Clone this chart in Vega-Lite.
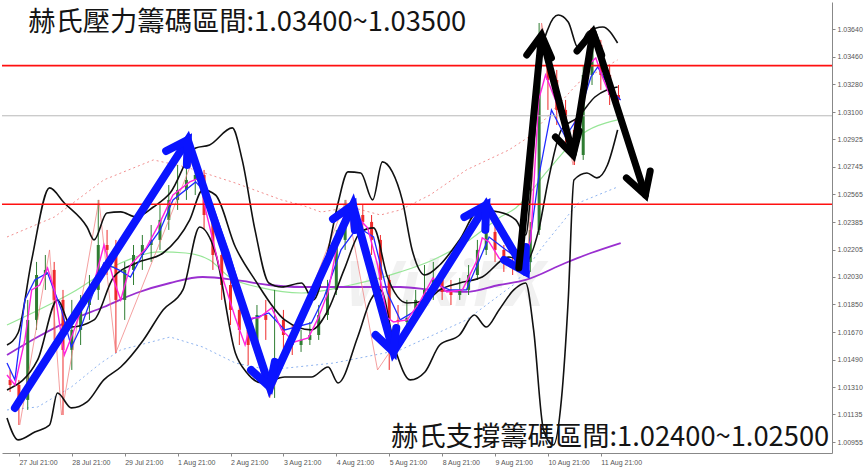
{
  "$schema": "https://vega.github.io/schema/vega-lite/v6.json",
  "width": 830,
  "height": 451,
  "autosize": "none",
  "padding": {"left": 2, "top": 2, "right": 35, "bottom": 14},
  "background": "white",
  "config": {
    "view": {"stroke": null},
    "axis": {"grid": false, "title": null, "domainColor": "#888", "tickColor": "#888", "tickSize": 3, "labelFont": "Liberation Sans", "labelFontSize": 7, "labelColor": "#555"}
  },
  "datasets": {
    "candles": [
      {"t": -4, "o": 1.01359, "h": 1.01424, "l": 1.01281, "c": 1.01326},
      {"t": 0, "o": 1.01326, "h": 1.01359, "l": 1.01066, "c": 1.01229},
      {"t": 4, "o": 1.01229, "h": 1.01879, "l": 1.01164, "c": 1.01749},
      {"t": 8, "o": 1.01749, "h": 1.02126, "l": 1.01684, "c": 1.02041},
      {"t": 12, "o": 1.02041, "h": 1.02171, "l": 1.01944, "c": 1.02074},
      {"t": 16, "o": 1.02074, "h": 1.02126, "l": 1.01619, "c": 1.01879},
      {"t": 20, "o": 1.01879, "h": 1.01944, "l": 1.01131, "c": 1.01554},
      {"t": 24, "o": 1.01554, "h": 1.01879, "l": 1.01424, "c": 1.01684},
      {"t": 28, "o": 1.01684, "h": 1.01911, "l": 1.01586, "c": 1.01846},
      {"t": 32, "o": 1.01846, "h": 1.02041, "l": 1.01749, "c": 1.01944},
      {"t": 36, "o": 1.01944, "h": 1.02529, "l": 1.01879, "c": 1.02236},
      {"t": 40, "o": 1.02236, "h": 1.02334, "l": 1.02041, "c": 1.02204},
      {"t": 44, "o": 1.02204, "h": 1.02269, "l": 1.01534, "c": 1.01879},
      {"t": 48, "o": 1.01879, "h": 1.02126, "l": 1.01749, "c": 1.02074},
      {"t": 52, "o": 1.02074, "h": 1.02236, "l": 1.01976, "c": 1.02171},
      {"t": 56, "o": 1.02171, "h": 1.02301, "l": 1.02074, "c": 1.02236},
      {"t": 60, "o": 1.02236, "h": 1.02366, "l": 1.02126, "c": 1.02269},
      {"t": 64, "o": 1.02269, "h": 1.02496, "l": 1.02204, "c": 1.02399},
      {"t": 68, "o": 1.02399, "h": 1.02626, "l": 1.02334, "c": 1.02529},
      {"t": 72, "o": 1.02529, "h": 1.02756, "l": 1.02464, "c": 1.02594},
      {"t": 76, "o": 1.02594, "h": 1.02789, "l": 1.02529, "c": 1.02659},
      {"t": 80, "o": 1.02659, "h": 1.02769, "l": 1.02561, "c": 1.02691},
      {"t": 84, "o": 1.02691, "h": 1.02724, "l": 1.02334, "c": 1.02431},
      {"t": 88, "o": 1.02431, "h": 1.02464, "l": 1.02074, "c": 1.02171},
      {"t": 92, "o": 1.02171, "h": 1.02236, "l": 1.01879, "c": 1.01976},
      {"t": 96, "o": 1.01976, "h": 1.02009, "l": 1.01716, "c": 1.01814},
      {"t": 100, "o": 1.01814, "h": 1.01879, "l": 1.01586, "c": 1.01684},
      {"t": 104, "o": 1.01684, "h": 1.01749, "l": 1.01456, "c": 1.01586},
      {"t": 108, "o": 1.01586, "h": 1.01846, "l": 1.01521, "c": 1.01781},
      {"t": 112, "o": 1.01781, "h": 1.01879, "l": 1.01619, "c": 1.01749},
      {"t": 116, "o": 1.01749, "h": 1.01944, "l": 1.01242, "c": 1.01749},
      {"t": 120, "o": 1.01749, "h": 1.01814, "l": 1.01554, "c": 1.01651},
      {"t": 124, "o": 1.01651, "h": 1.01716, "l": 1.01521, "c": 1.01586},
      {"t": 128, "o": 1.01586, "h": 1.01684, "l": 1.01541, "c": 1.01619},
      {"t": 132, "o": 1.01619, "h": 1.01736, "l": 1.01586, "c": 1.01651},
      {"t": 136, "o": 1.01651, "h": 1.01846, "l": 1.01619, "c": 1.01781},
      {"t": 140, "o": 1.01781, "h": 1.02009, "l": 1.01749, "c": 1.01944},
      {"t": 144, "o": 1.01944, "h": 1.02334, "l": 1.01911, "c": 1.02269},
      {"t": 148, "o": 1.02269, "h": 1.02529, "l": 1.02204, "c": 1.02451},
      {"t": 152, "o": 1.02451, "h": 1.02529, "l": 1.02366, "c": 1.02431},
      {"t": 156, "o": 1.02431, "h": 1.02496, "l": 1.02269, "c": 1.02386},
      {"t": 160, "o": 1.02386, "h": 1.02431, "l": 1.02171, "c": 1.02269},
      {"t": 164, "o": 1.02269, "h": 1.02301, "l": 1.01879, "c": 1.02009},
      {"t": 168, "o": 1.02009, "h": 1.02041, "l": 1.01424, "c": 1.01749},
      {"t": 172, "o": 1.01749, "h": 1.01846, "l": 1.01651, "c": 1.01736},
      {"t": 176, "o": 1.01736, "h": 1.01879, "l": 1.01684, "c": 1.01762},
      {"t": 180, "o": 1.01762, "h": 1.01944, "l": 1.01736, "c": 1.01879},
      {"t": 184, "o": 1.01879, "h": 1.02106, "l": 1.01846, "c": 1.01944},
      {"t": 188, "o": 1.01944, "h": 1.02126, "l": 1.01879, "c": 1.02009},
      {"t": 192, "o": 1.02009, "h": 1.02074, "l": 1.01879, "c": 1.01931},
      {"t": 196, "o": 1.01931, "h": 1.02009, "l": 1.01846, "c": 1.01911},
      {"t": 200, "o": 1.01911, "h": 1.02022, "l": 1.01879, "c": 1.01944},
      {"t": 204, "o": 1.01944, "h": 1.02106, "l": 1.01911, "c": 1.02041},
      {"t": 208, "o": 1.02041, "h": 1.02269, "l": 1.02009, "c": 1.02204},
      {"t": 212, "o": 1.02204, "h": 1.02464, "l": 1.02171, "c": 1.02321},
      {"t": 216, "o": 1.02321, "h": 1.02366, "l": 1.02126, "c": 1.02204},
      {"t": 220, "o": 1.02204, "h": 1.02236, "l": 1.02061, "c": 1.02126},
      {"t": 224, "o": 1.02126, "h": 1.02191, "l": 1.02041, "c": 1.02106},
      {"t": 228, "o": 1.02106, "h": 1.02171, "l": 1.02061, "c": 1.02126},
      {"t": 232, "o": 1.02126, "h": 1.02386, "l": 1.02061, "c": 1.02334},
      {"t": 236, "o": 1.02334, "h": 1.03679, "l": 1.02301, "c": 1.03439},
      {"t": 240, "o": 1.03439, "h": 1.03536, "l": 1.03114, "c": 1.03309},
      {"t": 244, "o": 1.03309, "h": 1.03374, "l": 1.03016, "c": 1.03114},
      {"t": 248, "o": 1.03114, "h": 1.03179, "l": 1.02886, "c": 1.02984},
      {"t": 252, "o": 1.02984, "h": 1.03049, "l": 1.02756, "c": 1.02821},
      {"t": 256, "o": 1.02821, "h": 1.03406, "l": 1.02789, "c": 1.03341},
      {"t": 260, "o": 1.03341, "h": 1.03647, "l": 1.03276, "c": 1.03536},
      {"t": 264, "o": 1.03536, "h": 1.03569, "l": 1.03244, "c": 1.03341},
      {"t": 268, "o": 1.03341, "h": 1.03406, "l": 1.03146, "c": 1.03211},
      {"t": 272, "o": 1.03211, "h": 1.03276, "l": 1.03101, "c": 1.03179}
    ],
    "lines": [
      {"s": "ma5", "t": -5.4, "v": 1.01391}, {"s": "ma5", "t": -1.8, "v": 1.01326}, {"s": "ma5", "t": 2.7, "v": 1.01619},
      {"s": "ma5", "t": 5.8, "v": 1.01944}, {"s": "ma5", "t": 9.4, "v": 1.01976}, {"s": "ma5", "t": 13.0, "v": 1.02087},
      {"s": "ma5", "t": 16.1, "v": 1.01944}, {"s": "ma5", "t": 20.6, "v": 1.01521}, {"s": "ma5", "t": 24.2, "v": 1.01651},
      {"s": "ma5", "t": 28.2, "v": 1.01814}, {"s": "ma5", "t": 33.2, "v": 1.01944}, {"s": "ma5", "t": 38.6, "v": 1.02236},
      {"s": "ma5", "t": 43.0, "v": 1.02009}, {"s": "ma5", "t": 46.2, "v": 1.01879}, {"s": "ma5", "t": 50.6, "v": 1.02106},
      {"s": "ma5", "t": 57.8, "v": 1.02217}, {"s": "ma5", "t": 64.1, "v": 1.02386}, {"s": "ma5", "t": 69.9, "v": 1.02561},
      {"s": "ma5", "t": 77.5, "v": 1.02646}, {"s": "ma5", "t": 82.0, "v": 1.02672}, {"s": "ma5", "t": 84.7, "v": 1.02464},
      {"s": "ma5", "t": 91.0, "v": 1.02087}, {"s": "ma5", "t": 98.2, "v": 1.01762}, {"s": "ma5", "t": 102.6, "v": 1.01586},
      {"s": "ma5", "t": 105.8, "v": 1.01762}, {"s": "ma5", "t": 108.9, "v": 1.01762}, {"s": "ma5", "t": 114.7, "v": 1.01827},
      {"s": "ma5", "t": 119.2, "v": 1.01684}, {"s": "ma5", "t": 125.0, "v": 1.01606}, {"s": "ma5", "t": 131.3, "v": 1.01632},
      {"s": "ma5", "t": 135.8, "v": 1.01762}, {"s": "ma5", "t": 140.3, "v": 1.01931}, {"s": "ma5", "t": 144.8, "v": 1.02269},
      {"s": "ma5", "t": 147.5, "v": 1.02431}, {"s": "ma5", "t": 151.9, "v": 1.02444}, {"s": "ma5", "t": 158.2, "v": 1.02347},
      {"s": "ma5", "t": 162.7, "v": 1.02106}, {"s": "ma5", "t": 167.2, "v": 1.01762}, {"s": "ma5", "t": 169.9, "v": 1.01736},
      {"s": "ma5", "t": 176.1, "v": 1.01749}, {"s": "ma5", "t": 181.9, "v": 1.01866}, {"s": "ma5", "t": 187.8, "v": 1.02022},
      {"s": "ma5", "t": 194.1, "v": 1.01931}, {"s": "ma5", "t": 201.2, "v": 1.01944}, {"s": "ma5", "t": 207.5, "v": 1.02126},
      {"s": "ma5", "t": 210.2, "v": 1.02282}, {"s": "ma5", "t": 213.3, "v": 1.02256}, {"s": "ma5", "t": 217.8, "v": 1.02152},
      {"s": "ma5", "t": 222.3, "v": 1.021}, {"s": "ma5", "t": 225.4, "v": 1.02119}, {"s": "ma5", "t": 229.0, "v": 1.02126},
      {"s": "ma5", "t": 232.2, "v": 1.02269}, {"s": "ma5", "t": 235.8, "v": 1.03179}, {"s": "ma5", "t": 238.9, "v": 1.03341},
      {"s": "ma5", "t": 242.5, "v": 1.03211}, {"s": "ma5", "t": 247.0, "v": 1.03049}, {"s": "ma5", "t": 251.4, "v": 1.02886},
      {"s": "ma5", "t": 254.6, "v": 1.03146}, {"s": "ma5", "t": 258.2, "v": 1.03406}, {"s": "ma5", "t": 261.7, "v": 1.03452},
      {"s": "ma5", "t": 264.9, "v": 1.03322}, {"s": "ma5", "t": 268.0, "v": 1.03211}, {"s": "ma5", "t": 271.6, "v": 1.03179},

      {"s": "ma10", "t": -5.4, "v": 1.01469}, {"s": "ma10", "t": -1.8, "v": 1.01359}, {"s": "ma10", "t": 2.7, "v": 1.01879},
      {"s": "ma10", "t": 7.2, "v": 1.02009}, {"s": "ma10", "t": 13.0, "v": 1.02054}, {"s": "ma10", "t": 19.3, "v": 1.01814},
      {"s": "ma10", "t": 23.8, "v": 1.01573}, {"s": "ma10", "t": 28.2, "v": 1.01703}, {"s": "ma10", "t": 38.5, "v": 1.02119},
      {"s": "ma10", "t": 45.3, "v": 1.02074}, {"s": "ma10", "t": 50.6, "v": 1.02028}, {"s": "ma10", "t": 56.5, "v": 1.02184},
      {"s": "ma10", "t": 64.1, "v": 1.02334}, {"s": "ma10", "t": 69.9, "v": 1.02529}, {"s": "ma10", "t": 80.2, "v": 1.02646},
      {"s": "ma10", "t": 86.5, "v": 1.02548}, {"s": "ma10", "t": 95.5, "v": 1.02184}, {"s": "ma10", "t": 104.4, "v": 1.01749},
      {"s": "ma10", "t": 113.4, "v": 1.01794}, {"s": "ma10", "t": 120.6, "v": 1.01684}, {"s": "ma10", "t": 132.7, "v": 1.01729},
      {"s": "ma10", "t": 138.5, "v": 1.01898}, {"s": "ma10", "t": 146.1, "v": 1.02204}, {"s": "ma10", "t": 153.7, "v": 1.02353},
      {"s": "ma10", "t": 160.9, "v": 1.02288}, {"s": "ma10", "t": 167.2, "v": 1.01924}, {"s": "ma10", "t": 173.0, "v": 1.01749},
      {"s": "ma10", "t": 180.6, "v": 1.01814}, {"s": "ma10", "t": 187.8, "v": 1.01989}, {"s": "ma10", "t": 195.4, "v": 1.01944},
      {"s": "ma10", "t": 203.0, "v": 1.01944}, {"s": "ma10", "t": 208.9, "v": 1.02139}, {"s": "ma10", "t": 213.3, "v": 1.02288},
      {"s": "ma10", "t": 221.0, "v": 1.02204}, {"s": "ma10", "t": 225.4, "v": 1.02158}, {"s": "ma10", "t": 231.3, "v": 1.02204},
      {"s": "ma10", "t": 235.8, "v": 1.02678}, {"s": "ma10", "t": 241.6, "v": 1.03114}, {"s": "ma10", "t": 247.9, "v": 1.02938},
      {"s": "ma10", "t": 253.7, "v": 1.03068}, {"s": "ma10", "t": 259.5, "v": 1.03328}, {"s": "ma10", "t": 262.6, "v": 1.03393},
      {"s": "ma10", "t": 268.5, "v": 1.03244}, {"s": "ma10", "t": 273.0, "v": 1.03179},

      {"s": "ma50", "t": -5.4, "v": 1.01716}, {"s": "ma50", "t": 23.8, "v": 1.01924}, {"s": "ma50", "t": 46.2, "v": 1.02119},
      {"s": "ma50", "t": 64.1, "v": 1.02191}, {"s": "ma50", "t": 75.7, "v": 1.02184}, {"s": "ma50", "t": 86.5, "v": 1.02139},
      {"s": "ma50", "t": 95.5, "v": 1.02028}, {"s": "ma50", "t": 110.3, "v": 1.01957}, {"s": "ma50", "t": 128.2, "v": 1.01924},
      {"s": "ma50", "t": 150.6, "v": 1.01976}, {"s": "ma50", "t": 173.0, "v": 1.02061}, {"s": "ma50", "t": 187.8, "v": 1.02139},
      {"s": "ma50", "t": 204.4, "v": 1.02269}, {"s": "ma50", "t": 217.8, "v": 1.02412}, {"s": "ma50", "t": 225.4, "v": 1.02477},
      {"s": "ma50", "t": 240.2, "v": 1.02724}, {"s": "ma50", "t": 253.7, "v": 1.02938}, {"s": "ma50", "t": 271.6, "v": 1.03049},

      {"s": "ma200", "t": -5.4, "v": 1.01521}, {"s": "ma200", "t": 8.5, "v": 1.01638}, {"s": "ma200", "t": 23.8, "v": 1.01749},
      {"s": "ma200", "t": 38.5, "v": 1.01833}, {"s": "ma200", "t": 53.3, "v": 1.01924}, {"s": "ma200", "t": 68.6, "v": 1.01989},
      {"s": "ma200", "t": 83.4, "v": 1.02028}, {"s": "ma200", "t": 98.2, "v": 1.02009}, {"s": "ma200", "t": 113.4, "v": 1.01976},
      {"s": "ma200", "t": 128.2, "v": 1.01963}, {"s": "ma200", "t": 143.0, "v": 1.01963}, {"s": "ma200", "t": 173.0, "v": 1.01963},
      {"s": "ma200", "t": 187.8, "v": 1.01944}, {"s": "ma200", "t": 203.0, "v": 1.01931}, {"s": "ma200", "t": 217.8, "v": 1.01976},
      {"s": "ma200", "t": 229.9, "v": 1.02009}, {"s": "ma200", "t": 247.9, "v": 1.02119}, {"s": "ma200", "t": 259.5, "v": 1.02184},
      {"s": "ma200", "t": 273.0, "v": 1.02249},

      {"s": "envU", "t": -5.4, "v": 1.02288}, {"s": "envU", "t": 16.1, "v": 1.02418}, {"s": "envU", "t": 38.5, "v": 1.02659},
      {"s": "envU", "t": 61.0, "v": 1.02789}, {"s": "envU", "t": 75.7, "v": 1.02743}, {"s": "envU", "t": 98.2, "v": 1.02639},
      {"s": "envU", "t": 119.2, "v": 1.02529}, {"s": "envU", "t": 128.2, "v": 1.02496}, {"s": "envU", "t": 137.1, "v": 1.0245},
      {"s": "envU", "t": 150.6, "v": 1.02483}, {"s": "envU", "t": 164.0, "v": 1.02431}, {"s": "envU", "t": 173.0, "v": 1.02464},
      {"s": "envU", "t": 186.5, "v": 1.02561}, {"s": "envU", "t": 203.0, "v": 1.02724}, {"s": "envU", "t": 222.3, "v": 1.02854},
      {"s": "envU", "t": 231.3, "v": 1.02938}, {"s": "envU", "t": 253.7, "v": 1.03289}, {"s": "envU", "t": 271.6, "v": 1.03439},

      {"s": "envL", "t": -5.4, "v": 1.01164}, {"s": "envL", "t": 8.5, "v": 1.01183}, {"s": "envL", "t": 23.8, "v": 1.01313},
      {"s": "envL", "t": 37.2, "v": 1.01469}, {"s": "envL", "t": 46.2, "v": 1.01554}, {"s": "envL", "t": 68.6, "v": 1.01638},
      {"s": "envL", "t": 83.4, "v": 1.01573}, {"s": "envL", "t": 98.2, "v": 1.01469}, {"s": "envL", "t": 113.4, "v": 1.01424},
      {"s": "envL", "t": 143.0, "v": 1.01469}, {"s": "envL", "t": 173.0, "v": 1.01554}, {"s": "envL", "t": 203.0, "v": 1.01749},
      {"s": "envL", "t": 225.4, "v": 1.01989}, {"s": "envL", "t": 238.9, "v": 1.02249}, {"s": "envL", "t": 253.7, "v": 1.02509},
      {"s": "envL", "t": 271.6, "v": 1.02613},

      {"s": "zz", "t": 0.4, "v": 1.01066}, {"s": "zz", "t": 13.9, "v": 1.02204}, {"s": "zz", "t": 19.3, "v": 1.01131},
      {"s": "zz", "t": 36.3, "v": 1.02529}, {"s": "zz", "t": 43.9, "v": 1.01534}, {"s": "zz", "t": 78.9, "v": 1.02789},
      {"s": "zz", "t": 113.8, "v": 1.01242}, {"s": "zz", "t": 148.4, "v": 1.02529}, {"s": "zz", "t": 162.7, "v": 1.01424},
      {"s": "zz", "t": 212.0, "v": 1.02464}, {"s": "zz", "t": 230.4, "v": 1.02061}, {"s": "zz", "t": 237.1, "v": 1.03679},
      {"s": "zz", "t": 251.4, "v": 1.02756}, {"s": "zz", "t": 259.5, "v": 1.03647}, {"s": "zz", "t": 271.6, "v": 1.03114},

      {"s": "bbU", "t": -5.4, "v": 1.01586}, {"s": "bbU", "t": -0.4, "v": 1.01664}, {"s": "bbU", "t": 5.8, "v": 1.02139},
      {"s": "bbU", "t": 13.9, "v": 1.02607}, {"s": "bbU", "t": 20.6, "v": 1.02509}, {"s": "bbU", "t": 30.9, "v": 1.02353},
      {"s": "bbU", "t": 34.1, "v": 1.02269}, {"s": "bbU", "t": 39.9, "v": 1.02444}, {"s": "bbU", "t": 46.2, "v": 1.02451},
      {"s": "bbU", "t": 53.3, "v": 1.02418}, {"s": "bbU", "t": 61.0, "v": 1.02483}, {"s": "bbU", "t": 68.6, "v": 1.02574},
      {"s": "bbU", "t": 80.2, "v": 1.02867}, {"s": "bbU", "t": 86.5, "v": 1.02886}, {"s": "bbU", "t": 96.8, "v": 1.02997},
      {"s": "bbU", "t": 101.3, "v": 1.02789}, {"s": "bbU", "t": 107.1, "v": 1.02334}, {"s": "bbU", "t": 113.4, "v": 1.01989},
      {"s": "bbU", "t": 119.2, "v": 1.01963}, {"s": "bbU", "t": 128.2, "v": 1.01989}, {"s": "bbU", "t": 133.6, "v": 1.01879},
      {"s": "bbU", "t": 140.3, "v": 1.02204}, {"s": "bbU", "t": 144.8, "v": 1.02509}, {"s": "bbU", "t": 149.3, "v": 1.02711},
      {"s": "bbU", "t": 155.1, "v": 1.02704}, {"s": "bbU", "t": 160.5, "v": 1.02529}, {"s": "bbU", "t": 164.9, "v": 1.02776},
      {"s": "bbU", "t": 169.4, "v": 1.02711}, {"s": "bbU", "t": 173.9, "v": 1.02529}, {"s": "bbU", "t": 178.4, "v": 1.02204},
      {"s": "bbU", "t": 184.2, "v": 1.02041}, {"s": "bbU", "t": 190.9, "v": 1.02106}, {"s": "bbU", "t": 199.9, "v": 1.02269},
      {"s": "bbU", "t": 208.9, "v": 1.02464}, {"s": "bbU", "t": 217.8, "v": 1.02451}, {"s": "bbU", "t": 225.4, "v": 1.02399},
      {"s": "bbU", "t": 229.9, "v": 1.02301}, {"s": "bbU", "t": 233.5, "v": 1.02854}, {"s": "bbU", "t": 236.6, "v": 1.03439},
      {"s": "bbU", "t": 240.2, "v": 1.03647}, {"s": "bbU", "t": 244.7, "v": 1.03731}, {"s": "bbU", "t": 249.2, "v": 1.03686},
      {"s": "bbU", "t": 253.7, "v": 1.03517}, {"s": "bbU", "t": 258.2, "v": 1.03621}, {"s": "bbU", "t": 264.9, "v": 1.03653},
      {"s": "bbU", "t": 271.6, "v": 1.03549},

      {"s": "bbM", "t": -5.4, "v": 1.01294}, {"s": "bbM", "t": 8.5, "v": 1.01489}, {"s": "bbM", "t": 17.5, "v": 1.01879},
      {"s": "bbM", "t": 23.8, "v": 1.01703}, {"s": "bbM", "t": 34.1, "v": 1.01749}, {"s": "bbM", "t": 43.0, "v": 1.02028},
      {"s": "bbM", "t": 53.3, "v": 1.02119}, {"s": "bbM", "t": 65.4, "v": 1.02184}, {"s": "bbM", "t": 77.5, "v": 1.02399},
      {"s": "bbM", "t": 83.4, "v": 1.02594}, {"s": "bbM", "t": 89.2, "v": 1.02561}, {"s": "bbM", "t": 98.2, "v": 1.02223},
      {"s": "bbM", "t": 107.1, "v": 1.02009}, {"s": "bbM", "t": 120.6, "v": 1.01749}, {"s": "bbM", "t": 132.7, "v": 1.01684},
      {"s": "bbM", "t": 140.3, "v": 1.01814}, {"s": "bbM", "t": 147.5, "v": 1.02074}, {"s": "bbM", "t": 155.1, "v": 1.02321},
      {"s": "bbM", "t": 160.9, "v": 1.02347}, {"s": "bbM", "t": 167.2, "v": 1.02028}, {"s": "bbM", "t": 176.1, "v": 1.01859},
      {"s": "bbM", "t": 185.1, "v": 1.01879}, {"s": "bbM", "t": 190.9, "v": 1.01944}, {"s": "bbM", "t": 199.9, "v": 1.01989},
      {"s": "bbM", "t": 210.2, "v": 1.02028}, {"s": "bbM", "t": 222.3, "v": 1.02158}, {"s": "bbM", "t": 229.9, "v": 1.02126},
      {"s": "bbM", "t": 235.8, "v": 1.02334}, {"s": "bbM", "t": 240.2, "v": 1.02659}, {"s": "bbM", "t": 246.1, "v": 1.02984},
      {"s": "bbM", "t": 253.7, "v": 1.03068}, {"s": "bbM", "t": 261.3, "v": 1.03198}, {"s": "bbM", "t": 271.6, "v": 1.03263},

      {"s": "bbL", "t": -5.4, "v": 1.01112}, {"s": "bbL", "t": -0.4, "v": 1.00969}, {"s": "bbL", "t": 7.2, "v": 1.0102},
      {"s": "bbL", "t": 13.9, "v": 1.01066}, {"s": "bbL", "t": 17.5, "v": 1.01274}, {"s": "bbL", "t": 23.8, "v": 1.01177},
      {"s": "bbL", "t": 30.9, "v": 1.01216}, {"s": "bbL", "t": 38.5, "v": 1.01359}, {"s": "bbL", "t": 46.2, "v": 1.01443},
      {"s": "bbL", "t": 56.5, "v": 1.01619}, {"s": "bbL", "t": 65.4, "v": 1.01814}, {"s": "bbL", "t": 74.4, "v": 1.01944},
      {"s": "bbL", "t": 82.0, "v": 1.02353}, {"s": "bbL", "t": 89.2, "v": 1.02184}, {"s": "bbL", "t": 98.2, "v": 1.01534},
      {"s": "bbL", "t": 103.5, "v": 1.01404}, {"s": "bbL", "t": 110.3, "v": 1.01339}, {"s": "bbL", "t": 120.6, "v": 1.01378},
      {"s": "bbL", "t": 132.7, "v": 1.01378}, {"s": "bbL", "t": 140.3, "v": 1.01443}, {"s": "bbL", "t": 144.8, "v": 1.01339},
      {"s": "bbL", "t": 153.7, "v": 1.01638}, {"s": "bbL", "t": 159.6, "v": 1.01879}, {"s": "bbL", "t": 164.0, "v": 1.01944},
      {"s": "bbL", "t": 170.8, "v": 1.01554}, {"s": "bbL", "t": 177.5, "v": 1.01359}, {"s": "bbL", "t": 184.2, "v": 1.01411},
      {"s": "bbL", "t": 190.9, "v": 1.01586}, {"s": "bbL", "t": 199.9, "v": 1.01651}, {"s": "bbL", "t": 206.6, "v": 1.01781},
      {"s": "bbL", "t": 212.0, "v": 1.01703}, {"s": "bbL", "t": 217.8, "v": 1.01814}, {"s": "bbL", "t": 224.5, "v": 1.01944},
      {"s": "bbL", "t": 229.9, "v": 1.01989}, {"s": "bbL", "t": 233.5, "v": 1.01684}, {"s": "bbL", "t": 238.0, "v": 1.01034},
      {"s": "bbL", "t": 242.5, "v": 1.00936}, {"s": "bbL", "t": 246.1, "v": 1.01229}, {"s": "bbL", "t": 249.2, "v": 1.01879},
      {"s": "bbL", "t": 251.8, "v": 1.02659}, {"s": "bbL", "t": 257.7, "v": 1.02704}, {"s": "bbL", "t": 262.2, "v": 1.02672},
      {"s": "bbL", "t": 267.0, "v": 1.02756}, {"s": "bbL", "t": 271.6, "v": 1.02984}
    ],
    "blueWave": [
      {"id": "path", "k": 0, "t": -1.8, "v": 1.01177}, {"id": "path", "k": 1, "t": 76.6, "v": 1.02919},
      {"id": "path", "k": 2, "t": 113.8, "v": 1.01313}, {"id": "path", "k": 3, "t": 151.5, "v": 1.02496},
      {"id": "path", "k": 4, "t": 169.9, "v": 1.01541}, {"id": "path", "k": 5, "t": 212.0, "v": 1.02496},
      {"id": "path", "k": 6, "t": 229.9, "v": 1.02061},
      {"id": "h1", "k": 0, "t": 66.8, "v": 1.02847}, {"id": "h1", "k": 1, "t": 76.6, "v": 1.02919}, {"id": "h1", "k": 2, "t": 76.2, "v": 1.02756},
      {"id": "h2", "k": 0, "t": 116.1, "v": 1.01476}, {"id": "h2", "k": 1, "t": 113.8, "v": 1.01313}, {"id": "h2", "k": 2, "t": 105.3, "v": 1.01424},
      {"id": "h3", "k": 0, "t": 142.5, "v": 1.02405}, {"id": "h3", "k": 1, "t": 151.5, "v": 1.02496}, {"id": "h3", "k": 2, "t": 152.4, "v": 1.02334},
      {"id": "h4", "k": 0, "t": 171.2, "v": 1.01697}, {"id": "h4", "k": 1, "t": 169.9, "v": 1.01541}, {"id": "h4", "k": 2, "t": 161.8, "v": 1.01651},
      {"id": "h5", "k": 0, "t": 202.1, "v": 1.02418}, {"id": "h5", "k": 1, "t": 212.0, "v": 1.02496}, {"id": "h5", "k": 2, "t": 211.6, "v": 1.02334},
      {"id": "h6", "k": 0, "t": 229.9, "v": 1.02223}, {"id": "h6", "k": 1, "t": 229.9, "v": 1.02061}, {"id": "h6", "k": 2, "t": 220.1, "v": 1.02139}
    ],
    "blackWave": [
      {"id": "path", "k": 0, "t": 226.8, "v": 1.02087}, {"id": "path", "k": 1, "t": 237.1, "v": 1.03601},
      {"id": "path", "k": 2, "t": 251.4, "v": 1.02821}, {"id": "path", "k": 3, "t": 260.4, "v": 1.03621},
      {"id": "path", "k": 4, "t": 284.2, "v": 1.02561},
      {"id": "h1", "k": 0, "t": 230.4, "v": 1.03471}, {"id": "h1", "k": 1, "t": 237.1, "v": 1.03601}, {"id": "h1", "k": 2, "t": 241.6, "v": 1.03452},
      {"id": "h2", "k": 0, "t": 254.1, "v": 1.02977}, {"id": "h2", "k": 1, "t": 251.4, "v": 1.02821}, {"id": "h2", "k": 2, "t": 243.4, "v": 1.02938},
      {"id": "h3", "k": 0, "t": 253.2, "v": 1.03497}, {"id": "h3", "k": 1, "t": 260.4, "v": 1.03621}, {"id": "h3", "k": 2, "t": 264.4, "v": 1.03471},
      {"id": "h4", "k": 0, "t": 286.4, "v": 1.02717}, {"id": "h4", "k": 1, "t": 284.2, "v": 1.02561}, {"id": "h4", "k": 2, "t": 275.6, "v": 1.02672}
    ],
    "levels": [
      {"v": 1.03402, "kind": "zone"},
      {"v": 1.03076, "kind": "last"},
      {"v": 1.02501, "kind": "zone"}
    ]
  },
  "encoding": {
    "x": {
      "field": "t", "type": "quantitative",
      "scale": {"domain": [-5.4, 366.6], "nice": false, "zero": false},
      "axis": {
        "values": [0, 24, 48, 72, 96, 120, 144, 168, 192, 216, 240, 264],
        "labelExpr": "['27 Jul 21:00','28 Jul 21:00','29 Jul 21:00','1 Aug 21:00','2 Aug 21:00','3 Aug 21:00','4 Aug 21:00','5 Aug 21:00','8 Aug 21:00','9 Aug 21:00','10 Aug 21:00','11 Aug 21:00'][round(datum.value / 24)]",
        "labelAlign": "left", "labelPadding": 2, "labelOverlap": false, "labelFlush": false
      }
    },
    "y": {
      "field": "v", "type": "quantitative",
      "scale": {"domain": [1.00884, 1.038155], "nice": false, "zero": false},
      "axis": {
        "orient": "right",
        "values": [1.0364, 1.0346, 1.0328, 1.031, 1.02925, 1.02745, 1.02565, 1.02385, 1.02205, 1.0203, 1.0185, 1.0167, 1.0149, 1.0131, 1.01135, 1.00955],
        "format": ".5f", "labelPadding": 2
      }
    }
  },
  "layer": [
    {
      "data": {"values": [{"t": 193, "v": 1.0196, "mark": "WikiFX"}]},
      "mark": {"type": "text", "font": "Noto Sans", "fontSize": 62, "fontWeight": "bold", "fontStyle": "italic", "color": "#9a9a9a", "opacity": 0.13, "align": "center", "baseline": "middle"},
      "encoding": {"text": {"field": "mark"}}
    },
    {
      "data": {"name": "lines"},
      "transform": [{"filter": "datum.s === 'envU'"}],
      "mark": {"type": "line", "color": "#f29090", "strokeWidth": 1, "strokeDash": [2, 3], "clip": true},
      "encoding": {"order": {"field": "t"}}
    },
    {
      "data": {"name": "lines"},
      "transform": [{"filter": "datum.s === 'envL'"}],
      "mark": {"type": "line", "color": "#8fb4f0", "strokeWidth": 1, "strokeDash": [2, 3], "clip": true},
      "encoding": {"order": {"field": "t"}}
    },
    {
      "data": {"name": "lines"},
      "transform": [{"filter": "datum.s === 'ma50'"}],
      "mark": {"type": "line", "color": "#98e698", "strokeWidth": 1.2, "interpolate": "monotone", "clip": true},
      "encoding": {"order": {"field": "t"}}
    },
    {
      "data": {"name": "lines"},
      "transform": [{"filter": "datum.s === 'ma200'"}],
      "mark": {"type": "line", "color": "#9a2fd0", "strokeWidth": 1.8, "interpolate": "monotone", "clip": true},
      "encoding": {"order": {"field": "t"}}
    },
    {
      "data": {"name": "candles"},
      "mark": {"type": "rule", "strokeWidth": 1, "clip": true},
      "encoding": {
        "y": {"field": "l", "type": "quantitative", "scale": {"domain": [1.00884, 1.038155], "nice": false, "zero": false}},
        "y2": {"field": "h"},
        "color": {"condition": {"test": "datum.c >= datum.o", "value": "#2f7d32"}, "value": "#ee2b2b"}
      }
    },
    {
      "data": {"name": "candles"},
      "mark": {"type": "bar", "width": 3, "clip": true},
      "encoding": {
        "y": {"field": "o", "type": "quantitative", "scale": {"domain": [1.00884, 1.038155], "nice": false, "zero": false}},
        "y2": {"field": "c"},
        "color": {"condition": {"test": "datum.c >= datum.o", "value": "#2f7d32"}, "value": "#ee2b2b"}
      }
    },
    {
      "data": {"name": "lines"},
      "transform": [{"filter": "datum.s === 'zz'"}],
      "mark": {"type": "line", "color": "#f07a7a", "strokeWidth": 0.9, "opacity": 0.8, "clip": true},
      "encoding": {"order": {"field": "t"}}
    },
    {
      "data": {"name": "lines"},
      "transform": [{"filter": "datum.s === 'bbU' || datum.s === 'bbM' || datum.s === 'bbL'"}],
      "mark": {"type": "line", "color": "#111111", "strokeWidth": 1.6, "interpolate": "monotone", "clip": true},
      "encoding": {"detail": {"field": "s"}, "order": {"field": "t"}}
    },
    {
      "data": {"name": "lines"},
      "transform": [{"filter": "datum.s === 'ma10'"}],
      "mark": {"type": "line", "color": "#1f2bff", "strokeWidth": 1.3, "clip": true},
      "encoding": {"order": {"field": "t"}}
    },
    {
      "data": {"name": "lines"},
      "transform": [{"filter": "datum.s === 'ma5'"}],
      "mark": {"type": "line", "color": "#ff22dd", "strokeWidth": 1.4, "clip": true},
      "encoding": {"order": {"field": "t"}}
    },
    {
      "data": {"name": "levels"},
      "mark": {"type": "rule", "clip": true},
      "encoding": {
        "x": null,
        "color": {"field": "kind", "type": "nominal", "scale": {"domain": ["zone", "last"], "range": ["#ff1010", "#b8b8b8"]}, "legend": null},
        "strokeWidth": {"field": "kind", "type": "nominal", "scale": {"domain": ["zone", "last"], "range": [1.6, 1]}, "legend": null}
      }
    },
    {
      "data": {"name": "blueWave"},
      "mark": {"type": "line", "color": "#0a14ff", "strokeWidth": 8, "strokeJoin": "miter", "strokeCap": "round", "clip": true},
      "encoding": {"detail": {"field": "id"}, "order": {"field": "k"}}
    },
    {
      "data": {"name": "blackWave"},
      "mark": {"type": "line", "color": "#000000", "strokeWidth": 7, "strokeJoin": "miter", "strokeCap": "round", "clip": true},
      "encoding": {"detail": {"field": "id"}, "order": {"field": "k"}}
    },
    {
      "data": {"name": "levels"},
      "mark": {"type": "rect"},
      "encoding": {
        "x": {"datum": 367.3},
        "x2": {"datum": 381.9},
        "y": {"field": "v", "type": "quantitative"},
        "y2": {"field": "v"},
        "color": {"field": "kind", "type": "nominal", "scale": {"domain": ["zone", "last"], "range": ["#ff1010", "#000000"]}, "legend": null}
      }
    },
    {
      "data": {"name": "levels"},
      "mark": {"type": "text", "font": "Liberation Sans", "fontSize": 7, "color": "white", "align": "left", "baseline": "middle"},
      "encoding": {
        "x": {"datum": 368.3},
        "text": {"field": "v", "type": "quantitative", "format": ".5f"}
      }
    },
    {
      "data": {"values": [{"t": 4.2, "v": 1.03679, "label": "赫氏壓力籌碼區間:1.03400~1.03500"}]},
      "mark": {"type": "text", "font": "Noto Sans CJK TC", "fontSize": 27.3, "color": "#141414", "align": "left", "baseline": "middle"},
      "encoding": {"text": {"field": "label"}}
    },
    {
      "data": {"values": [{"t": 367.6, "v": 1.00982, "label": "赫氏支撐籌碼區間:1.02400~1.02500"}]},
      "mark": {"type": "text", "font": "Noto Sans CJK TC", "fontSize": 27.3, "color": "#141414", "align": "right", "baseline": "middle"},
      "encoding": {"text": {"field": "label"}}
    }
  ]
}
